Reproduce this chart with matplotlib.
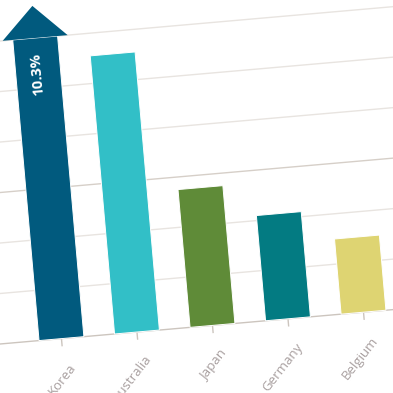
import matplotlib
matplotlib.use("Agg")
import matplotlib.pyplot as plt
from matplotlib.transforms import Affine2D
from matplotlib.patches import Polygon

# Data
countries = ["Korea", "Australia", "Japan", "Germany", "Belgium"]
values = [10.3, 5.55, 2.75, 2.1, 1.5]
colors = ["#015a7e", "#32bfc7", "#5f8b38", "#037b82", "#ded472"]
axis_max = 6
grid_levels = [1, 2, 3, 4, 5, 6]
label_text = "10.3%"

plt.rcParams["font.family"] = ["Open Sans", "DejaVu Sans"]

fig = plt.figure(figsize=(3.93, 3.93), dpi=100)
ax = fig.add_axes([0, 0, 1, 1])
ax.set_xlim(0, 393)
ax.set_ylim(0, 393)
ax.axis("off")

# the whole chart is tilted by ~5 degrees
tilt = 5
chart = Affine2D().scale(75.8, 50.3).translate(61.7, 0).rotate_deg(tilt).translate(0, 49) + ax.transData

# Gridlines
for lvl in grid_levels:
    col = "#d6cfc8" if lvl == 3 else "#e8e4e0"
    ax.plot([-2, 6], [lvl, lvl], color=col, lw=1, transform=chart, zorder=1)
# Baseline
ax.plot([-2, 6], [0, 0], color="#ccc5be", lw=1, transform=chart, zorder=1)

# Bars (values above the axis max are capped with an arrow)
xs = list(range(len(countries)))
heights = [min(v, axis_max) for v in values]
bars = ax.bar(xs, heights, width=0.594, color=colors, edgecolor="white",
              linewidth=0.7, zorder=2)
for b in bars:
    b.set_transform(chart)

for i, v in enumerate(values):
    if v > axis_max:
        head = Polygon([(i - 0.43, axis_max), (i, axis_max + 0.64), (i + 0.43, axis_max)],
                       closed=True, facecolor=colors[i], edgecolor="none",
                       transform=chart, zorder=3)
        ax.add_patch(head)
        ax.text(i - 0.02, axis_max - 0.3, label_text, color="white", fontsize=10.5,
                fontweight="bold", rotation=90 + tilt, rotation_mode="anchor",
                ha="right", va="center", transform=chart, zorder=4)

# Ticks and category labels
for i, name in enumerate(countries):
    ax.plot([i, i], [0, -0.14], color="#ccc5be", lw=1, transform=chart, zorder=1)
    ax.text(i + 0.065, -0.45, name, color="#a89f9f", fontsize=9.5,
            rotation=47 + tilt, rotation_mode="anchor", ha="right", va="top",
            transform=chart)

fig.savefig("out.png", dpi=100)
